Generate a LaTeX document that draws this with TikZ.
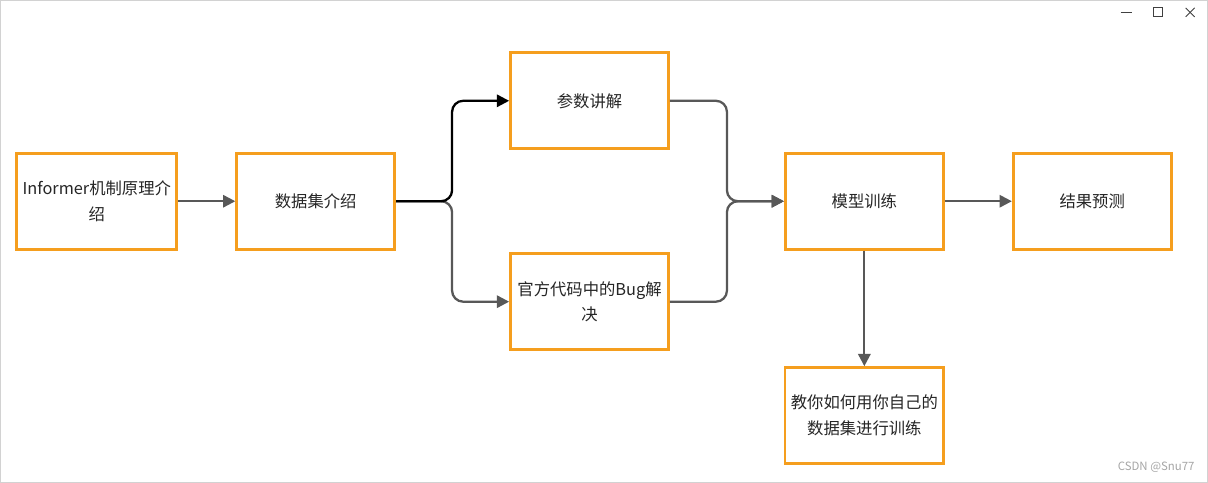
\documentclass[tikz,border=0pt]{standalone}
\usepackage{fontspec}
\setmainfont{Noto Sans CJK SC}
\usetikzlibrary{arrows.meta}
\definecolor{boxorange}{RGB}{245,158,30}
\definecolor{linegray}{RGB}{88,88,88}
\begin{document}
\begin{tikzpicture}[>={Triangle[length=7pt,width=7pt]},
    stepbox/.style={draw=boxorange, line width=1.6pt, minimum width=3.16cm, minimum height=1.92cm,
        align=center, text=black!85, font=\fontsize{9.3}{14.7}\selectfont},
    link/.style={->, linegray, line width=1.3pt, rounded corners=0.22cm}]
    % Cornice della finestra
    \draw[gray!35, fill=white] (0,0) rectangle (24.16,-9.64);
    \useasboundingbox (0,0) rectangle (24.16,-9.64);

    % Pulsanti della finestra
    \draw[black!75, line width=0.5pt] (22.42,-0.24) -- (22.64,-0.24);
    \draw[black!75, line width=0.5pt] (23.08,-0.15) rectangle (23.26,-0.33);
    \draw[black!75, line width=0.5pt] (23.72,-0.15) -- (23.90,-0.33);
    \draw[black!75, line width=0.5pt] (23.72,-0.33) -- (23.90,-0.15);

    % Nodi del diagramma
    \node[stepbox] (informer) at (1.93,-4.02) {Informer机制原理介\\绍};
    \node[stepbox] (dataset) at (6.31,-4.02) {数据集介绍};
    \node[stepbox] (params) at (11.79,-2.01) {参数讲解};
    \node[stepbox] (bugfix) at (11.79,-6.03) {官方代码中的Bug解\\决};
    \node[stepbox] (training) at (17.29,-4.02) {模型训练};
    \node[stepbox] (predict) at (21.85,-4.02) {结果预测};
    \node[stepbox] (owndata) at (17.29,-8.31) {教你如何用你自己的\\数据集进行训练};

    % Punti di diramazione
    \coordinate (split) at (9.04,-4.02);
    \coordinate (merge) at (14.54,-4.02);

    % Collegamenti
    \draw[link] (informer) -- (dataset);
    \draw[link] (dataset.east) -- (split) |- (bugfix.west);
    \draw[link] (params.east) -| (merge) -- (training.west);
    \draw[link] (bugfix.east) -| (merge) -- (training.west);
    \draw[link, black] (dataset.east) -- (split) |- (params.west);
    \draw[link] (training) -- (predict);
    \draw[link] (training) -- (owndata);

    % Filigrana
    \node[gray!70, font=\fontsize{6.5}{7.5}\selectfont, anchor=east] (mark) at (24.02,-9.34) {CSDN @Snu77};
\end{tikzpicture}
\end{document}
